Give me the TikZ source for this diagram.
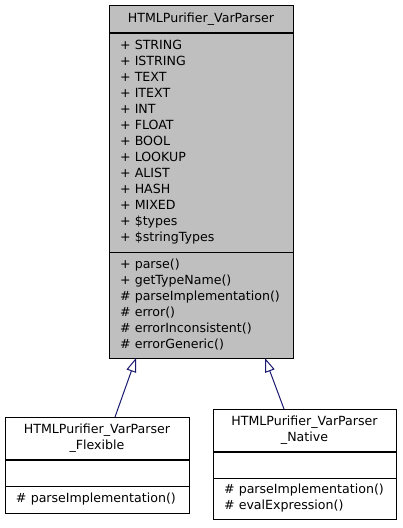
\documentclass[tikz,border=0pt]{standalone}
\usepackage{fontspec}
\setmainfont{DejaVu Sans}
\usetikzlibrary{arrows.meta}
\usetikzlibrary{positioning}
\definecolor{classgray}{HTML}{BFBFBF}
\definecolor{edgeblue}{HTML}{191970}

\begin{document}
\begin{tikzpicture}[x=1pt,y=-1pt,
			every node/.style={font=\fontsize{12.6}{16}\selectfont},
			part/.style={draw=black,line width=1pt,outer sep=0pt,inner xsep=11pt,
				inner ysep=0pt,anchor=north west},
			title part/.style={part,align=center},
			list part/.style={part,align=left},
			inherit/.style={draw=edgeblue,line width=1pt,
				-{Triangle[open,length=14pt,width=10pt]}}]
			\useasboundingbox (0,0) rectangle (403,528);
			
			% base class
			\node[title part,fill=classgray,text width=162pt,minimum height=28pt] (vp title) at (109,5) {HTMLPurifier\_VarParser};
			\node[list part,fill=classgray,text width=162pt,minimum height=219pt] (vp attrs) at (vp title.south west) {+ STRING\\+ ISTRING\\+ TEXT\\+ ITEXT\\+ INT\\+ FLOAT\\+ BOOL\\+ LOOKUP\\+ ALIST\\+ HASH\\+ MIXED\\+ \$types\\+ \$stringTypes};
			\node[list part,fill=classgray,text width=162pt,minimum height=106pt] (vp methods) at (vp attrs.south west) {+ parse()\\+ getTypeName()\\\# parseImplementation()\\\# error()\\\# errorInconsistent()\\\# errorGeneric()};
			\draw[line width=2pt] (vp title.south west) -- (vp title.south east);
			
			% flexible parser
			\node[title part,fill=white,text width=162pt,minimum height=43pt] (flex title) at (5,417) {HTMLPurifier\_VarParser\hspace*{12pt}\\\_Flexible};
			\node[list part,fill=white,text width=162pt,minimum height=26pt] (flex attrs) at (flex title.south west) {};
			\node[list part,fill=white,text width=162pt,minimum height=27pt] (flex methods) at (flex attrs.south west) {\# parseImplementation()};
			\draw[line width=2pt] (flex title.south west) -- (flex title.south east);
			
			% native parser
			\node[title part,fill=white,text width=161pt,minimum height=43pt] (native title) at (213,409) {HTMLPurifier\_VarParser\hspace*{12pt}\\\_Native};
			\node[list part,fill=white,text width=161pt,minimum height=26pt] (native attrs) at (native title.south west) {};
			\node[list part,fill=white,text width=161pt,minimum height=41pt] (native methods) at (native attrs.south west) {\# parseImplementation()\\\# evalExpression()};
			\draw[line width=2pt] (native title.south west) -- (native title.south east);
			
			\draw[inherit] ([xshift=110pt]flex title.north west) -- ([xshift=27pt]vp methods.south west);
			\draw[inherit] ([xshift=71pt]native title.north west) -- ([xshift=156pt]vp methods.south west);
		\end{tikzpicture}
\end{document}
